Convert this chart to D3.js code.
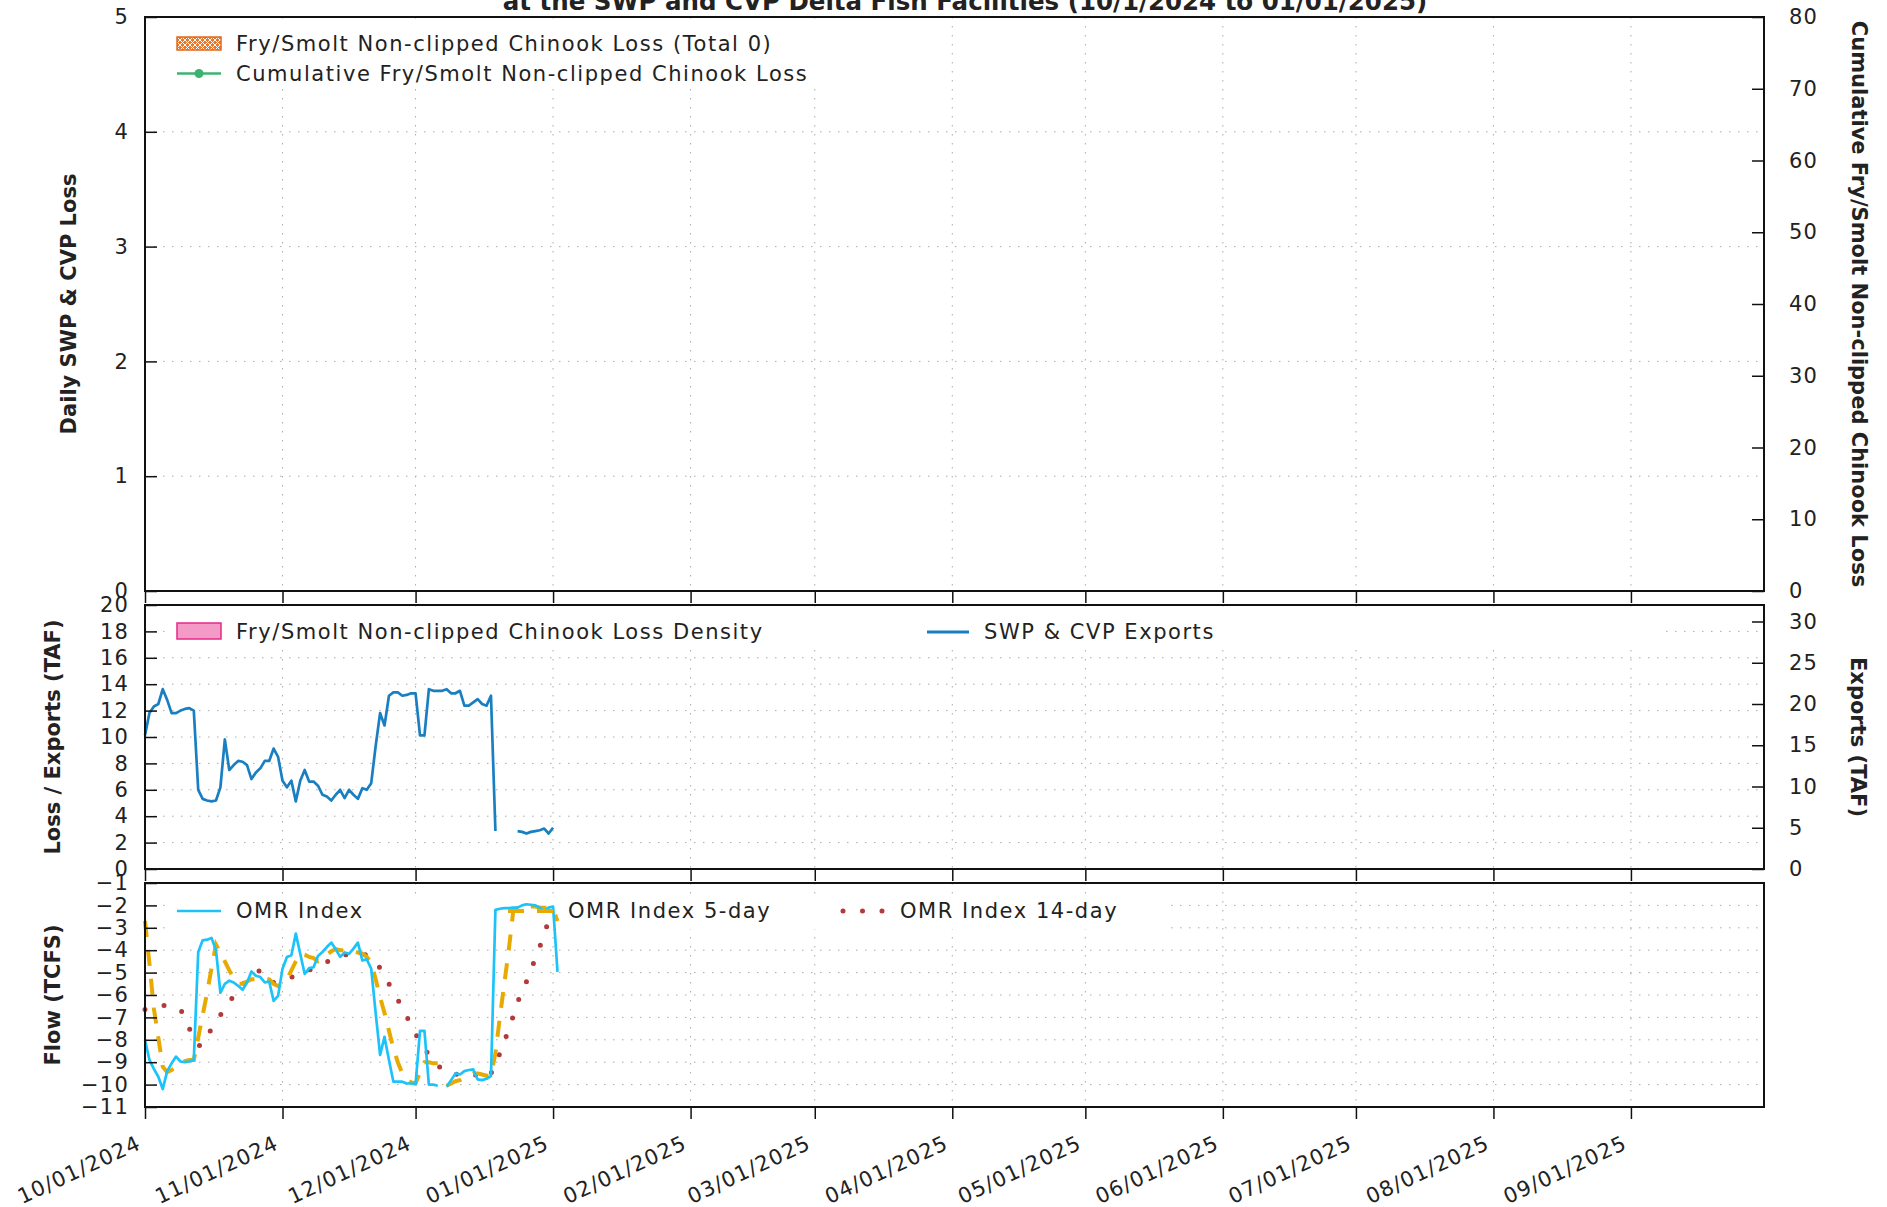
<!DOCTYPE html>
<html>
<head>
<meta charset="utf-8">
<script src="https://cdn.jsdelivr.net/npm/d3@7"></script>
<style>
    body { margin: 0; background: #fff; }
    svg { display: block; }
    text { font-family: "DejaVu Sans", sans-serif; fill: #222; }
</style>
</head>
<body>
<div id="chart"></div>
<script>
/* --------------------------------------------------------------
DATOS (valores diarios desde START, null = sin dato)
-------------------------------------------------------------- */

const START = "2024-10-01";
const END = "2025-10-01";

// SWP & CVP exports, TAF (eje derecho del panel central)
const EXPORTS_TAF = [
    16.2, 18.9, 19.7, 20.0, 21.8, 20.5, 18.9, 18.9, 19.2, 19.4,
    19.5, 19.2, 9.6, 8.5, 8.3, 8.2, 8.3, 9.9, 15.7, 12.0,
    12.6, 13.1, 13.0, 12.6, 10.9, 11.7, 12.2, 13.1, 13.1, 14.6,
    13.6, 10.7, 9.9, 10.7, 8.2, 10.7, 12.0, 10.6, 10.6, 10.1,
    9.0, 8.8, 8.3, 9.0, 9.6, 8.6, 9.6, 9.0, 8.5, 9.8,
    9.6, 10.4, 14.9, 18.9, 17.4, 21.0, 21.4, 21.4, 21.0, 21.1,
    21.3, 21.3, 16.2, 16.2, 21.8, 21.6, 21.6, 21.6, 21.8, 21.3,
    21.3, 21.6, 19.8, 19.8, 20.2, 20.6, 20.0, 19.8, 21.0, 4.6,
    null, null, null, null, 4.6, 4.5, 4.3, 4.5, 4.6, 4.7,
    4.9, 4.3, 5.0
];

// OMR Index, TCFS
const OMR_INDEX = [
    -8.0, -8.9, -9.3, -9.65, -10.2, -9.4, -9.05, -8.75, -8.97, -9.0,
    -8.97, -8.9, -4.08, -3.56, -3.53, -3.45, -4.0, -5.9, -5.5, -5.36,
    -5.44, -5.59, -5.77, -5.44, -4.95, -5.14, -5.2, -5.44, -5.4, -6.26,
    -6.04, -4.83, -4.3, -4.23, -3.26, -4.16, -5.06, -4.8, -4.76, -4.26,
    -4.08, -3.86, -3.66, -3.96, -4.3, -4.1, -4.16, -3.93, -3.66, -4.46,
    -4.41, -4.83, -6.8, -8.67, -7.87, -8.9, -9.87, -9.87, -9.87, -9.95,
    -9.95, -9.98, -7.6, -7.6, -10.0, -10.0, -10.05, null, -10.1, -9.8,
    -9.5, -9.55, -9.4, -9.35, -9.32, -9.77, -9.8, -9.74, -9.62, -2.2,
    -2.15, -2.12, -2.12, -2.1, -2.1, -2.0, -1.95, -1.97, -2.0, -2.1,
    -2.27, -2.1, -2.05, -4.97
];

// OMR Index 5-day
const OMR_5DAY = [
    -2.7, -4.6, -6.6, -7.9, -9.2, -9.45, -9.35, -9.25, -9.1, -8.95,
    -8.9, -8.9, -7.9, -6.9, -5.9, -4.8, -3.75, -4.1, -4.5, -4.9,
    -5.25, -5.5, -5.5, -5.4, -5.3, -5.3, -5.25, -5.25, -5.3, -5.5,
    -5.6, -5.5, -5.3, -4.9, -4.5, -4.15, -4.2, -4.3, -4.35, -4.5,
    -4.45, -4.2, -4.05, -3.95, -4.0, -4.0, -4.0, -4.05, -4.1, -4.15,
    -4.3, -4.55, -5.3, -6.1, -6.8, -7.6, -8.4, -9.0, -9.5, -9.75,
    -9.9, -9.95, -9.45, -9.0, -9.0, -9.05, -9.05, null, -10.05, -9.95,
    -9.85, -9.8, -9.7, -9.6, -9.5, -9.5, -9.55, -9.6, -9.6, -8.6,
    -7.0, -5.5, -4.0, -2.3, -2.1, -2.1, -2.1, -2.05, -2.05, -2.1,
    -2.1, -2.1, -2.15, -2.7
];

// OMR Index 14-day
const OMR_14DAY = [
    -6.65, -6.6, -6.55, -6.5, -6.47, -6.47, -6.5, -6.6, -6.65, -7.0,
    -7.5, -7.9, -8.25, -8.25, -7.85, -7.5, -7.2, -6.9, -6.6, -6.3,
    -6.05, -5.8, -5.55, -5.35, -5.15, -5.0, -4.9, -5.05, -5.25, -5.45,
    -5.4, -5.35, -5.3, -5.2, -5.15, -5.05, -5.0, -4.9, -4.8, -4.7,
    -4.6, -4.52, -4.45, -4.35, -4.3, -4.2, -4.2, -4.2, -4.2, -4.2,
    -4.2, -4.35, -4.55, -4.8, -5.15, -5.5, -5.9, -6.2, -6.6, -6.95,
    -7.35, -7.75, -8.05, -8.35, -8.7, -8.95, -9.15, -9.3, -9.5, -9.55,
    -9.55, -9.5, -9.47, -9.5, -9.55, -9.6, -9.7, -9.73, -9.5, -9.1,
    -8.6, -8.1, -7.5, -6.95, -6.3, -5.9, -5.4, -4.9, -4.35, -3.85,
    -3.25, -2.7, -2.3
];

// rangos de ejes
const LOSS_DOMAIN = [0, 5];
const CUM_DOMAIN = [0, 80];
const LOSS_EXP_DOMAIN = [0, 20];
const EXPORTS_DOMAIN = [0, 32];
const FLOW_DOMAIN = [-11, -1];

const TITLE = "at the SWP and CVP Delta Fish Facilities (10/1/2024 to 01/01/2025)";

/* --------------------------------------------------------------
LAYOUT
-------------------------------------------------------------- */

const W = 1887, H = 1207;
const LEFT = 145, RIGHT = 1764;
const PANELS = {
    top: { y0: 17, y1: 591 },
    mid: { y0: 605, y1: 869 },
    bot: { y0: 883, y1: 1107 }
};

const parseDay = d3.utcParse("%Y-%m-%d");
const startDate = parseDay(START);

function toPoints(values) {
    return values.map((v, i) => ({ date: d3.utcDay.offset(startDate, i), value: v }));
}

const svg = d3.select("#chart").append("svg")
    .attr("width", W)
    .attr("height", H);

const defs = svg.append("defs");
const hatch = defs.append("pattern")
    .attr("id", "hatch")
    .attr("patternUnits", "userSpaceOnUse")
    .attr("width", 5).attr("height", 5);
hatch.append("rect").attr("width", 5).attr("height", 5).attr("fill", "#e8782c");
hatch.append("path").attr("d", "M0,0 L5,5 M5,0 L0,5")
    .attr("stroke", "#fff").attr("stroke-width", 1);

const x = d3.scaleUtc()
    .domain([startDate, parseDay(END)])
    .range([LEFT, RIGHT]);

const monthTicks = d3.utcMonth.range(startDate, parseDay(END));

/* --------------------------------------------------------------
HELPERS
-------------------------------------------------------------- */

function styleAxis(g) {
    g.select(".domain").remove();
    g.attr("font-family", null).attr("font-size", null);
    g.selectAll(".tick line").attr("stroke", "#111").attr("stroke-width", 1.5);
    g.selectAll(".tick text")
        .attr("fill", "#222")
        .style("font-size", "21px")
        .style("letter-spacing", "1.2px");
}

function drawGrid(panel, y, yTicks) {
    const g = svg.append("g").attr("class", "grid");
    g.selectAll("line.v")
        .data(monthTicks.slice(1))
        .enter().append("line")
        .attr("x1", d => x(d)).attr("x2", d => x(d))
        .attr("y1", panel.y0).attr("y2", panel.y1)
        .attr("stroke", "#aaa").attr("stroke-width", 1)
        .attr("stroke-dasharray", "1.5,7.5");
    g.selectAll("line.h")
        .data(yTicks)
        .enter().append("line")
        .attr("x1", LEFT).attr("x2", RIGHT)
        .attr("y1", d => y(d)).attr("y2", d => y(d))
        .attr("stroke", "#aaa").attr("stroke-width", 1)
        .attr("stroke-dasharray", "1.5,7.5");
}

function keyBox(x0, y0, x1, y1) {
    svg.append("rect")
        .attr("x", x0).attr("y", y0)
        .attr("width", x1 - x0).attr("height", y1 - y0)
        .attr("fill", "#fff");
}

function keyText(tx, ty, label) {
    svg.append("text")
        .attr("x", tx).attr("y", ty)
        .attr("dominant-baseline", "central")
        .style("font-size", "21px")
        .style("letter-spacing", "1.55px")
        .text(label);
}

function frame(panel) {
    svg.append("rect")
        .attr("x", LEFT).attr("y", panel.y0)
        .attr("width", RIGHT - LEFT).attr("height", panel.y1 - panel.y0)
        .attr("fill", "none")
        .attr("stroke", "#111").attr("stroke-width", 2);
}

function xTicksOnly(panel) {
    svg.append("g")
        .attr("transform", `translate(0,${panel.y1})`)
        .call(d3.axisBottom(x).tickValues(monthTicks).tickSize(12).tickFormat(""))
        .call(styleAxis);
}

function axisLabel(tx, ty, angle, label) {
    svg.append("text")
        .attr("transform", `translate(${tx},${ty}) rotate(${angle})`)
        .attr("text-anchor", "middle")
        .style("font-size", "21px")
        .style("font-weight", "bold")
        .text(label);
}

/* --------------------------------------------------------------
PANEL SUPERIOR — pérdida diaria / acumulada
-------------------------------------------------------------- */

function drawTopPanel() {
    const p = PANELS.top;
    const y = d3.scaleLinear().domain(LOSS_DOMAIN).range([p.y1, p.y0]);
    const y2 = d3.scaleLinear().domain(CUM_DOMAIN).range([p.y1, p.y0]);

    drawGrid(p, y, [1, 2, 3, 4]);
    keyBox(168, 24, 830, 88);

    svg.append("g")
        .attr("transform", `translate(${LEFT},0)`)
        .call(d3.axisLeft(y).ticks(5).tickSize(-12).tickPadding(16))
        .call(styleAxis);
    svg.append("g")
        .attr("transform", `translate(${RIGHT},0)`)
        .call(d3.axisRight(y2).ticks(8).tickSize(-12).tickPadding(25))
        .call(styleAxis);
    xTicksOnly(p);
    frame(p);

    // leyenda
    svg.append("rect")
        .attr("x", 177).attr("y", 37).attr("width", 44).attr("height", 13)
        .attr("fill", "url(#hatch)").attr("stroke", "#e06a1c").attr("stroke-width", 1.5);
    keyText(236, 43.5, "Fry/Smolt Non-clipped Chinook Loss (Total 0)");
    svg.append("line")
        .attr("x1", 177).attr("x2", 221).attr("y1", 73.5).attr("y2", 73.5)
        .attr("stroke", "#3cb371").attr("stroke-width", 2.5);
    svg.append("circle")
        .attr("cx", 199).attr("cy", 73.5).attr("r", 4.5).attr("fill", "#3cb371");
    keyText(236, 73.5, "Cumulative Fry/Smolt Non-clipped Chinook Loss");

    axisLabel(76, 304, -90, "Daily SWP & CVP Loss");
    axisLabel(1852, 304, 90, "Cumulative Fry/Smolt Non-clipped Chinook Loss");
}

/* --------------------------------------------------------------
PANEL CENTRAL — densidad de pérdida / exportaciones
-------------------------------------------------------------- */

function drawMidPanel() {
    const p = PANELS.mid;
    const y = d3.scaleLinear().domain(LOSS_EXP_DOMAIN).range([p.y1, p.y0]);
    const y2 = d3.scaleLinear().domain(EXPORTS_DOMAIN).range([p.y1, p.y0]);

    drawGrid(p, y, d3.range(2, 20, 2));
    keyBox(168, 614, 1660, 650);

    const line = d3.line()
        .defined(d => d.value != null)
        .x(d => x(d.date))
        .y(d => y2(d.value));

    svg.append("path")
        .datum(toPoints(EXPORTS_TAF))
        .attr("d", line)
        .attr("fill", "none")
        .attr("stroke", "#1a7fc1")
        .attr("stroke-width", 2.7)
        .attr("stroke-linejoin", "round");

    svg.append("g")
        .attr("transform", `translate(${LEFT},0)`)
        .call(d3.axisLeft(y).tickValues(d3.range(0, 21, 2)).tickSize(-12).tickPadding(16))
        .call(styleAxis);
    svg.append("g")
        .attr("transform", `translate(${RIGHT},0)`)
        .call(d3.axisRight(y2).tickValues(d3.range(0, 31, 5)).tickSize(-12).tickPadding(25))
        .call(styleAxis);
    xTicksOnly(p);
    frame(p);

    svg.append("rect")
        .attr("x", 177).attr("y", 623).attr("width", 44).attr("height", 16)
        .attr("fill", "#f39ac6").attr("stroke", "#e7298a").attr("stroke-width", 1.5);
    keyText(236, 632, "Fry/Smolt Non-clipped Chinook Loss Density");
    svg.append("line")
        .attr("x1", 927).attr("x2", 969).attr("y1", 632).attr("y2", 632)
        .attr("stroke", "#1a7fc1").attr("stroke-width", 3);
    keyText(984, 632, "SWP & CVP Exports");

    axisLabel(60, 737, -90, "Loss / Exports (TAF)");
    axisLabel(1851, 737, 90, "Exports (TAF)");
}

/* --------------------------------------------------------------
PANEL INFERIOR — OMR
-------------------------------------------------------------- */

function drawBottomPanel() {
    const p = PANELS.bot;
    const y = d3.scaleLinear().domain(FLOW_DOMAIN).range([p.y1, p.y0]);

    drawGrid(p, y, d3.range(-10, -1, 1));
    keyBox(168, 894, 1170, 929);

    const line = d3.line()
        .defined(d => d.value != null)
        .x(d => x(d.date))
        .y(d => y(d.value));

    svg.append("path")
        .datum(toPoints(OMR_14DAY))
        .attr("d", line)
        .attr("fill", "none")
        .attr("stroke", "#b23a3a")
        .attr("stroke-width", 5)
        .attr("stroke-linecap", "round")
        .attr("stroke-dasharray", "0,19.5");

    svg.append("path")
        .datum(toPoints(OMR_5DAY))
        .attr("d", line)
        .attr("fill", "none")
        .attr("stroke", "#e8a900")
        .attr("stroke-width", 4)
        .attr("stroke-dasharray", "16,13");

    svg.append("path")
        .datum(toPoints(OMR_INDEX))
        .attr("d", line)
        .attr("fill", "none")
        .attr("stroke", "#1cc3fa")
        .attr("stroke-width", 2.7)
        .attr("stroke-linejoin", "round");

    svg.append("g")
        .attr("transform", `translate(${LEFT},0)`)
        .call(d3.axisLeft(y).tickValues(d3.range(-11, 0, 1)).tickSize(-12).tickPadding(16))
        .call(styleAxis);

    const xAxis = svg.append("g")
        .attr("transform", `translate(0,${p.y1})`)
        .call(d3.axisBottom(x).tickValues(monthTicks).tickSize(12).tickFormat(d3.utcFormat("%m/%d/%Y")))
        .call(styleAxis);
    xAxis.selectAll(".tick text")
        .attr("x", 0).attr("y", 0).attr("dy", 0)
        .attr("text-anchor", "end")
        .attr("transform", "translate(-3,41) rotate(-25)");

    frame(p);

    svg.append("line")
        .attr("x1", 177).attr("x2", 221).attr("y1", 911).attr("y2", 911)
        .attr("stroke", "#1cc3fa").attr("stroke-width", 2.7);
    keyText(236, 911, "OMR Index");
    svg.append("line")
        .attr("x1", 508).attr("x2", 554).attr("y1", 911).attr("y2", 911)
        .attr("stroke", "#e8a900").attr("stroke-width", 4)
        .attr("stroke-dasharray", "16,13");
    keyText(568, 911, "OMR Index 5-day");
    svg.append("line")
        .attr("x1", 843).attr("x2", 884).attr("y1", 911).attr("y2", 911)
        .attr("stroke", "#b23a3a").attr("stroke-width", 5)
        .attr("stroke-linecap", "round")
        .attr("stroke-dasharray", "0,19.5");
    keyText(900, 911, "OMR Index 14-day");

    axisLabel(60, 995, -90, "Flow (TCFS)");
}

/* --------------------------------------------------------------
INICIALIZACIÓN
-------------------------------------------------------------- */

function initChart() {
    svg.append("text")
        .attr("x", 965).attr("y", 10)
        .attr("text-anchor", "middle")
        .style("font-size", "24.5px")
        .style("font-weight", "bold")
        .text(TITLE);

    drawTopPanel();
    drawMidPanel();
    drawBottomPanel();
}

initChart();
</script>
</body>
</html>
